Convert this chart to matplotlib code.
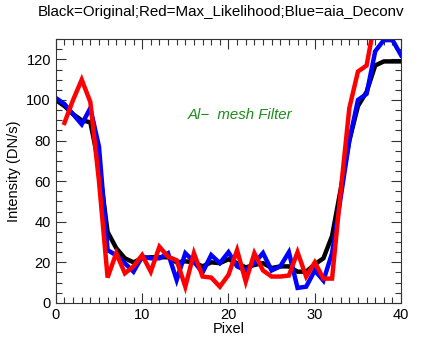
import numpy as np
import matplotlib
matplotlib.use('Agg')
import matplotlib.pyplot as plt
from matplotlib.ticker import MultipleLocator

plt.rcParams['font.family'] = ['Liberation Sans', 'DejaVu Sans']

# ── Data ──────────────────────────────────────────────────────────────────
pixel = np.arange(41)

original = [100, 97, 93, 90, 89, 68, 35, 27, 22, 20,
            22, 22.5, 22.5, 22.5, 20, 20.5, 20, 18, 20, 19.6,
            21.5, 19.6, 17.5, 18.7, 19.6, 17.2, 18, 18, 15.4, 15.4,
            19, 22, 33, 56, 80, 97, 104, 117, 119, 119, 119]

aia_deconv = [101, 98, 93, 88, 96, 77, 26, 23.5, 19.6, 15.4,
              22.8, 22, 22, 24.5, 11.3, 24.5, 20.3, 15, 23.6, 19.6,
              25, 18, 16, 19.6, 24.6, 16, 18, 25, 7.4, 8,
              16, 11, 24.5, 52, 80, 100, 103, 124, 129.5, 129.5, 122]

# red curve has no value at pixel 0
max_likelihood = [np.nan, 88.7, 100, 110, 99, 60, 12.5, 24.5, 14.6, 18,
                  23.6, 15.4, 27.7, 22.8, 21, 8, 24.5, 13, 12.5, 8,
                  13.8, 26, 10.5, 24.5, 16, 13, 13, 13.5, 25, 13,
                  20, 12, 12, 55, 96, 114, 117, 140, 150, 150, 145]

# ── Figure ────────────────────────────────────────────────────────────────
fig = plt.figure(figsize=(4.36, 3.49), dpi=100)
ax = fig.add_axes([0.128, 0.132, 0.792, 0.756])

ax.plot(pixel, original, color='black', lw=3.2, solid_joinstyle='miter')
ax.plot(pixel, aia_deconv, color='#0000ff', lw=3.2, solid_joinstyle='miter')
ax.plot(pixel, max_likelihood, color='#ff0000', lw=3.2, solid_joinstyle='miter')

ax.set_xlim(0, 40)
ax.set_ylim(0, 130)
ax.xaxis.set_major_locator(MultipleLocator(10))
ax.xaxis.set_minor_locator(MultipleLocator(1))
ax.yaxis.set_major_locator(MultipleLocator(20))
ax.yaxis.set_minor_locator(MultipleLocator(5))
ax.tick_params(which='both', direction='in', top=True, right=True,
               labelsize=10.5, width=0.8, color='#333333')
ax.tick_params(which='major', length=7)
ax.tick_params(which='minor', length=4)
for s in ax.spines.values():
    s.set_linewidth(0.8)
    s.set_color('#333333')

ax.set_xlabel('Pixel', fontsize=10.5, labelpad=0)
ax.set_ylabel('Intensity (DN/s)', fontsize=10.5, labelpad=4)
fig.text(0.506, 0.965, 'Black=Original;Red=Max_Likelihood;Blue=aia_Deconv',
         ha='center', va='center', fontsize=10.9)

ax.text(0.533, 0.712, 'Al\u2212  mesh Filter', transform=ax.transAxes,
        color='#1a8c1a', fontsize=10.8, style='italic', ha='center', va='center')

plt.savefig('out.png', dpi=100)
plt.close()
